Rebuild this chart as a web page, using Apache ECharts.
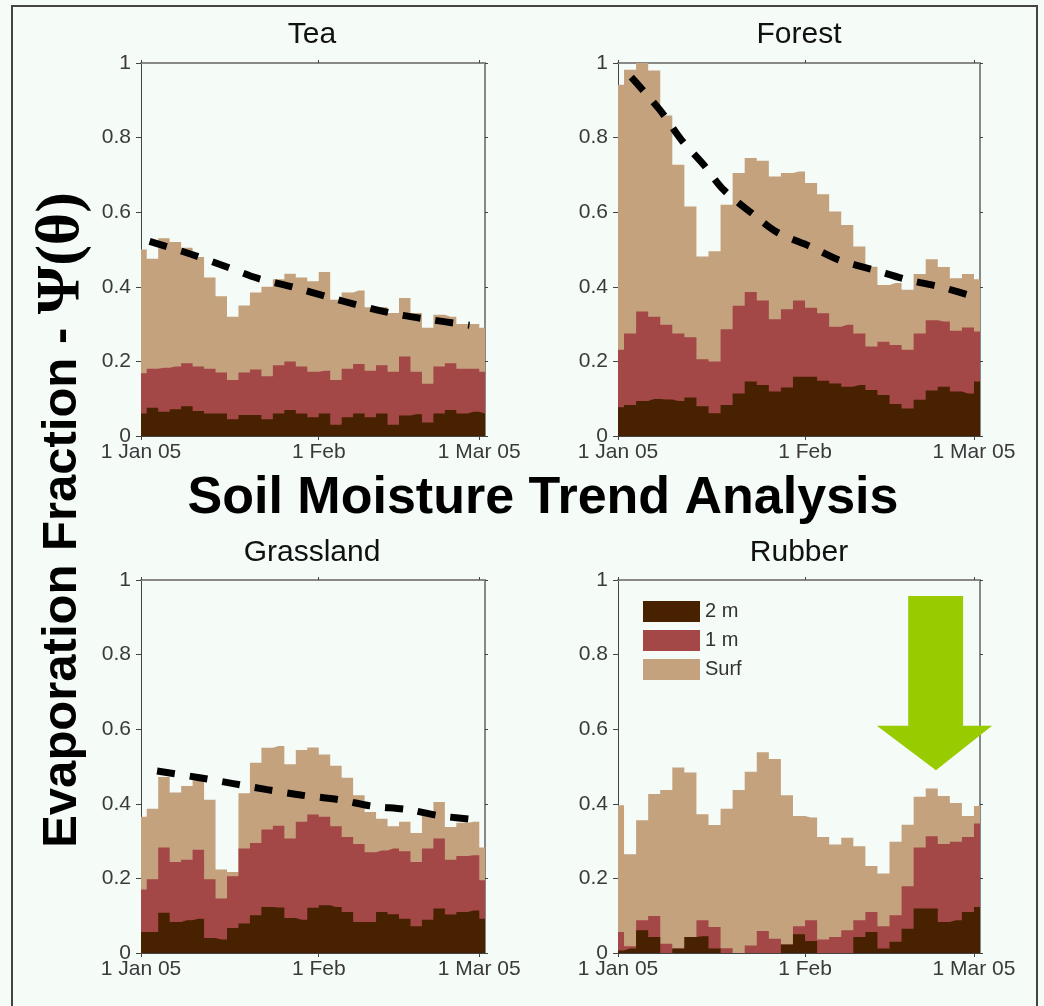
<!DOCTYPE html>
<html><head><meta charset="utf-8">
<script src="https://cdn.jsdelivr.net/npm/echarts@6/dist/echarts.min.js"></script>
<style>html,body{margin:0;padding:0;background:#f5fbf7}#c{width:1044px;height:1006px}</style>
</head><body><div id="c"></div>
<script>
// ---------- data ----------
const days = [0,2,4,6,8,10,12,14,16,18,20,22,24,26,28,30,32,34,36,38,40,42,44,46,48,50,52,54,56,58,60];
const xTickDays = [0, 31, 59];
const xTickLabels = ['1 Jan 05', '1 Feb', '1 Mar 05'];
const seriesNames = ['2 m', '1 m', 'Surf'];
const panelNames = ['Tea', 'Forest', 'Grassland', 'Rubber'];

// cumulative tops of each layer (Surf = total)
const teaSurf = [0.50,0.475,0.53,0.52,0.505,0.48,0.425,0.375,0.32,0.35,0.385,0.40,0.42,0.435,0.425,0.415,0.44,0.365,0.385,0.39,0.345,0.345,0.33,0.37,0.33,0.29,0.325,0.32,0.30,0.30,0.29];
const tea1m   = [0.168,0.18,0.183,0.186,0.195,0.186,0.18,0.17,0.15,0.17,0.178,0.16,0.19,0.2,0.186,0.172,0.175,0.15,0.18,0.193,0.175,0.19,0.172,0.213,0.172,0.14,0.186,0.195,0.18,0.18,0.172];
const tea2m   = [0.06,0.076,0.065,0.072,0.08,0.067,0.06,0.06,0.045,0.056,0.056,0.045,0.06,0.07,0.06,0.05,0.06,0.03,0.05,0.06,0.05,0.06,0.03,0.055,0.058,0.036,0.06,0.07,0.06,0.065,0.06];
const teaTrendX = [1.5,9,15,20.3,26.6,32.3,38.3,44.4,50,57.3];
const teaTrendY = [0.522,0.486,0.453,0.423,0.399,0.374,0.349,0.327,0.313,0.297];

const forestSurf = [0.942,0.982,1.0,0.98,0.859,0.727,0.615,0.481,0.495,0.62,0.705,0.745,0.738,0.696,0.705,0.709,0.678,0.648,0.602,0.566,0.508,0.454,0.405,0.41,0.392,0.434,0.474,0.453,0.423,0.434,0.42];
const forest1m   = [0.231,0.275,0.334,0.32,0.298,0.275,0.265,0.206,0.2,0.286,0.349,0.386,0.363,0.313,0.34,0.363,0.344,0.329,0.293,0.298,0.275,0.24,0.253,0.244,0.231,0.275,0.31,0.307,0.282,0.291,0.28];
const forest2m   = [0.077,0.083,0.094,0.099,0.098,0.094,0.103,0.08,0.061,0.083,0.114,0.146,0.137,0.119,0.13,0.159,0.159,0.148,0.141,0.132,0.137,0.123,0.11,0.086,0.074,0.097,0.122,0.132,0.119,0.114,0.146];
const forestTrendX = [2.2,6.9,10.5,14.2,17.5,22.2,26.4,31.9,36.6,42.5,48,53.6,60];
const forestTrendY = [0.962,0.875,0.794,0.727,0.66,0.597,0.546,0.508,0.472,0.445,0.419,0.399,0.369];

const grassSurf = [0.365,0.387,0.472,0.43,0.448,0.463,0.411,0.224,0.217,0.428,0.51,0.55,0.555,0.506,0.544,0.551,0.532,0.502,0.47,0.423,0.378,0.36,0.34,0.352,0.322,0.378,0.405,0.338,0.349,0.352,0.283];
const grass1m   = [0.17,0.198,0.283,0.244,0.25,0.277,0.198,0.146,0.206,0.28,0.295,0.331,0.341,0.307,0.352,0.371,0.365,0.34,0.311,0.292,0.27,0.275,0.28,0.273,0.244,0.28,0.307,0.25,0.26,0.262,0.195];
const grass2m   = [0.056,0.056,0.108,0.083,0.088,0.092,0.04,0.036,0.067,0.079,0.101,0.123,0.122,0.094,0.089,0.121,0.128,0.123,0.11,0.083,0.083,0.11,0.104,0.092,0.072,0.089,0.119,0.103,0.11,0.114,0.092];
const grassTrendX = [2.8,10.2,16.1,22,28.1,34.5,40.2,46.4,52,57.9,59];
const grassTrendY = [0.488,0.47,0.454,0.438,0.423,0.411,0.394,0.385,0.368,0.358,0.355];

const rubberSurf = [0.396,0.265,0.356,0.426,0.437,0.497,0.484,0.372,0.343,0.387,0.437,0.486,0.538,0.52,0.423,0.367,0.363,0.311,0.291,0.309,0.286,0.233,0.213,0.298,0.344,0.419,0.441,0.421,0.402,0.367,0.394];
const rubber1m   = [0.056,0.018,0.088,0.099,0.025,0.012,0.043,0.088,0.07,0.013,0.0,0.02,0.059,0.038,0.023,0.072,0.088,0.036,0.043,0.061,0.088,0.11,0.072,0.101,0.179,0.283,0.313,0.292,0.298,0.311,0.347];
const rubber2m   = [0.007,0.012,0.061,0.043,0.0,0.012,0.043,0.045,0.012,0.0,0.0,0.0,0.0,0.0,0.023,0.05,0.032,0.0,0.0,0.0,0.043,0.056,0.012,0.03,0.065,0.119,0.119,0.083,0.088,0.11,0.123];

// annotation arrow in Rubber panel data units: [day, value]
const arrowPts = [[48.1,0.957],[57.2,0.957],[57.2,0.609],[62.0,0.609],[52.7,0.49],[42.9,0.609],[48.1,0.609]];

// ---------- layout / style ----------
const FONT = '"Liberation Sans", Arial, sans-serif';
const C2 = '#472100', C1 = '#a34747', CS = '#c4a27e';
const panels = [
  {surf: teaSurf, m1: tea1m, m2: tea2m, tx: teaTrendX, ty: teaTrendY, grid: {left:141, top:63, width:344, height:373}, tpos:[312,35]},
  {surf: forestSurf, m1: forest1m, m2: forest2m, tx: forestTrendX, ty: forestTrendY, grid: {left:618, top:63, width:362, height:373}, tpos:[799,35]},
  {surf: grassSurf, m1: grass1m, m2: grass2m, tx: grassTrendX, ty: grassTrendY, grid: {left:141, top:580, width:344, height:373}, tpos:[312,553]},
  {surf: rubberSurf, m1: rubber1m, m2: rubber2m, tx: null, ty: null, grid: {left:618, top:580, width:362, height:373}, tpos:[799,553]}
];

const grid = [], xAxis = [], yAxis = [], series = [], graphic = [];
panels.forEach((p, i) => {
  grid.push(Object.assign({containLabel:false}, p.grid));
  xAxis.push({gridIndex:i, type:'value', min:0, max:60, position:'bottom',
    axisLine:{show:true, onZero:false, lineStyle:{color:'#444', width:1}},
    axisTick:{show:true, customValues:xTickDays, length:4, lineStyle:{color:'#444'}},
    axisLabel:{customValues:xTickDays, formatter:v => { const k = xTickDays.indexOf(v); return k >= 0 ? xTickLabels[k] : ''; },
      fontSize:21, color:'#3a3a3a', margin:6, fontFamily:FONT},
    splitLine:{show:false}});
  xAxis.push({gridIndex:i, type:'value', min:0, max:60, position:'top',
    axisLine:{show:true, onZero:false, lineStyle:{color:'#888', width:2}},
    axisTick:{show:true, customValues:xTickDays, length:3, lineStyle:{color:'#444'}},
    axisLabel:{show:false}, splitLine:{show:false}});
  yAxis.push({gridIndex:i, type:'value', min:0, max:1, interval:0.2, position:'left',
    axisLine:{show:true, onZero:false, lineStyle:{color:'#444', width:1}},
    axisTick:{show:true, length:5, lineStyle:{color:'#444'}},
    axisLabel:{fontSize:21, color:'#3a3a3a', margin:10, fontFamily:FONT},
    splitLine:{show:false}});
  yAxis.push({gridIndex:i, type:'value', min:0, max:1, interval:0.2, position:'right',
    axisLine:{show:true, onZero:false, lineStyle:{color:'#888', width:2}},
    axisTick:{show:true, length:3, lineStyle:{color:'#444'}},
    axisLabel:{show:false}, splitLine:{show:false}});
  const layers = [[seriesNames[2], p.surf, CS, 2], [seriesNames[1], p.m1, C1, 3], [seriesNames[0], p.m2, C2, 4]];
  layers.forEach(([nm, arr, col, z]) => {
    series.push({name:nm, type:'line', xAxisIndex:2*i, yAxisIndex:2*i, step:'middle',
      data: days.map((d, j) => [d, arr[j]]), symbol:'none', showSymbol:false,
      lineStyle:{width:0, color:col}, itemStyle:{color:col}, areaStyle:{color:col, opacity:1}, z:z, silent:true});
  });
  if (p.tx) {
    series.push({name:'trend'+i, type:'line', xAxisIndex:2*i, yAxisIndex:2*i, smooth:0.3,
      data: p.tx.map((d, j) => [d, p.ty[j]]), symbol:'none', showSymbol:false,
      lineStyle:{color:'#000', width:7, type:[18,15], cap:'butt'}, z:6, silent:true});
  }
  graphic.push({type:'text', x:p.tpos[0], y:p.tpos[1], z:10,
    style:{text:panelNames[i], fill:'#111', fontSize:30, fontFamily:FONT, textAlign:'center', textVerticalAlign:'middle'}});
});

graphic.push({type:'rect', shape:{x:12, y:6, width:1025, height:1010}, style:{fill:'none', stroke:'#444', lineWidth:2}, z:0, silent:true});
graphic.push({type:'text', x:543, y:499, z:10,
  style:{text:'Soil Moisture Trend Analysis', fill:'#000', fontSize:52, fontWeight:'bold', fontFamily:FONT, textAlign:'center', textVerticalAlign:'middle'}});
graphic.push({type:'text', x:62, y:520, rotation:Math.PI/2, z:10,
  style:{text:'{a|Evaporation Fraction - }{b|Ψ(θ)}', textAlign:'center', textVerticalAlign:'middle',
    rich:{a:{fontSize:49, fontWeight:'bold', fontFamily:FONT, fill:'#000'},
          b:{fontSize:62, fontWeight:'bold', fontFamily:'"Liberation Serif", "Times New Roman", serif', fill:'#000'}}}});

const chart = echarts.init(document.getElementById('c'));
chart.setOption({
  animation:false,
  backgroundColor:'#f5fbf7',
  grid, xAxis, yAxis, series,
  legend:{data:seriesNames, orient:'vertical', left:638, top:596, itemWidth:57, itemHeight:21, itemGap:8,
    icon:'rect', selectedMode:false, textStyle:{fontSize:20, color:'#333', fontFamily:FONT}, itemStyle:{borderWidth:0}},
  graphic
});
const arrowPx = arrowPts.map(pt => chart.convertToPixel({xAxisIndex:6, yAxisIndex:6}, pt));
chart.setOption({graphic: graphic.concat([{type:'polygon', shape:{points:arrowPx}, style:{fill:'#99cc00'}, z:20, silent:true}])});
</script></body></html>
